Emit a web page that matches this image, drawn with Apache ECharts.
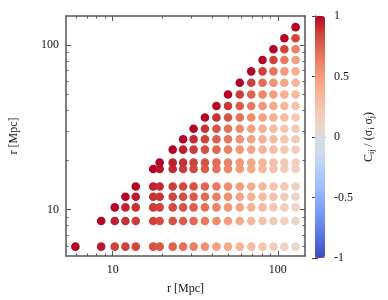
<!DOCTYPE html>
<html>
<head>
<meta charset="utf-8">
<script src="https://cdn.jsdelivr.net/npm/echarts@6/dist/echarts.min.js"></script>
<style>html,body{margin:0;padding:0;background:#fff;}#c{width:388px;height:300px;}</style>
</head>
<body>
<div id="c"></div>
<script>
// separation bins r [Mpc] (same for both axes)
const rBins = [5.95, 8.52, 10.3, 11.95, 13.8, 17.6, 19.25, 23.1, 26.7, 30.9, 36.2, 42.5, 49.9, 58.8, 69.0, 80.8, 94.0, 109.5, 128.0];
// correlation coefficients, row i (y = rBins[i]) for columns j = i..18
const row0  = [1, 0.96, 0.86, 0.86, 0.84, 0.8, 0.78, 0.74, 0.68, 0.63, 0.55, 0.47, 0.42, 0.36, 0.31, 0.25, 0.19, 0.13, 0.08];
const row1  = [1, 0.94, 0.9, 0.88, 0.85, 0.83, 0.8, 0.77, 0.72, 0.65, 0.57, 0.49, 0.41, 0.34, 0.27, 0.21, 0.16, 0.11];
const row2  = [1, 0.93, 0.9, 0.88, 0.86, 0.83, 0.8, 0.76, 0.69, 0.61, 0.52, 0.44, 0.37, 0.3, 0.24, 0.18, 0.12];
const row3  = [1, 0.95, 0.9, 0.89, 0.85, 0.82, 0.78, 0.71, 0.63, 0.54, 0.46, 0.38, 0.31, 0.25, 0.19, 0.13];
const row4  = [1, 0.94, 0.92, 0.87, 0.84, 0.8, 0.73, 0.65, 0.56, 0.48, 0.4, 0.33, 0.26, 0.2, 0.14];
const row5  = [1, 0.97, 0.92, 0.88, 0.84, 0.77, 0.69, 0.6, 0.5, 0.42, 0.34, 0.27, 0.2, 0.15];
const row6  = [1, 0.94, 0.9, 0.86, 0.79, 0.71, 0.61, 0.51, 0.43, 0.35, 0.28, 0.21, 0.16];
const row7  = [1, 0.94, 0.88, 0.81, 0.72, 0.62, 0.52, 0.44, 0.36, 0.29, 0.22, 0.17];
const row8  = [1, 0.92, 0.85, 0.76, 0.66, 0.55, 0.46, 0.38, 0.3, 0.24, 0.19];
const row9  = [1, 0.9, 0.8, 0.69, 0.58, 0.48, 0.39, 0.31, 0.25, 0.2];
const row10 = [1, 0.9, 0.8, 0.68, 0.57, 0.47, 0.38, 0.3, 0.23];
const row11 = [1, 0.89, 0.77, 0.64, 0.52, 0.42, 0.34, 0.26];
const row12 = [1, 0.88, 0.74, 0.6, 0.48, 0.38, 0.3];
const row13 = [1, 0.87, 0.7, 0.55, 0.43, 0.34];
const row14 = [1, 0.86, 0.67, 0.51, 0.39];
const row15 = [1, 0.86, 0.65, 0.48];
const row16 = [1, 0.85, 0.62];
const row17 = [1, 0.84];
const row18 = [1];
const majorTicks = [10, 100];
const minorTicksX = [6, 7, 8, 9, 20, 30, 40, 50, 60, 70, 80, 90];
const minorTicksY = [6, 7, 8, 9, 20, 30, 40, 50, 60, 70, 80, 90];
const cbarTicks = [-1, -0.5, 0, 0.5, 1];

const rows = [row0,row1,row2,row3,row4,row5,row6,row7,row8,row9,row10,row11,row12,row13,row14,row15,row16,row17,row18];
const points = [];
rows.forEach((row, i) => row.forEach((v, k) => points.push([rBins[i + k], rBins[i], v])));

const coolwarm = ['#3b4cc0','#4d68d7','#6282ea','#7799f8','#8db0fe','#a3c2ff','#b8d0f9','#ccd9ee','#dddddd','#ecd3c5','#f5c4ad','#f7b193','#f49a7b','#ec7f63','#de604d','#cb3e38','#b40426'];

const FONT = 'Liberation Serif';
const FRAME = '#555';
const xMin = 5.22, xMax = 146, yMin = 5.22, yMax = 149.6;

function logAxis(common, extra) { return Object.assign({type:'log', logBase:10, gridIndex:0, splitLine:{show:false}, minorTick:{show:false}}, common, extra); }
const xc = {min:xMin, max:xMax};
const yc = {min:yMin, max:yMax};

const option = {
  animation: false,
  backgroundColor: '#fff',
  grid: [
    {left:59, top:16, width:246, height:242, show:false},
    {left:315, top:16, width:10, height:242, show:false}
  ],
  xAxis: [
    logAxis(xc, {position:'bottom', axisLine:{show:true, lineStyle:{color:FRAME, width:1.5}},
      axisTick:{show:true, inside:true, length:5, customValues:majorTicks, lineStyle:{color:FRAME}},
      axisLabel:{show:true, customValues:majorTicks, margin:8, color:'#111', fontFamily:FONT, fontSize:12, formatter: v => String(Math.round(v))},
      name:'r [Mpc]', nameLocation:'middle', nameGap:27, nameTextStyle:{fontFamily:FONT, fontSize:12, color:'#111'}}),
    logAxis(xc, {position:'bottom', axisLine:{show:false}, axisLabel:{show:false},
      axisTick:{show:true, inside:true, length:2.5, customValues:minorTicksX, lineStyle:{color:FRAME}}}),
    logAxis(xc, {position:'top', axisLine:{show:true, lineStyle:{color:FRAME, width:1.5}}, axisLabel:{show:false},
      axisTick:{show:true, inside:true, length:5, customValues:majorTicks, lineStyle:{color:FRAME}}}),
    logAxis(xc, {position:'top', axisLine:{show:false}, axisLabel:{show:false},
      axisTick:{show:true, inside:true, length:2.5, customValues:minorTicksX, lineStyle:{color:FRAME}}}),
    {type:'value', gridIndex:1, min:0, max:1, position:'bottom', axisLine:{show:true, lineStyle:{color:FRAME, width:1}}, axisTick:{show:false}, axisLabel:{show:false}, splitLine:{show:false}},
    {type:'value', gridIndex:1, min:0, max:1, position:'top', axisLine:{show:true, lineStyle:{color:FRAME, width:1}}, axisTick:{show:false}, axisLabel:{show:false}, splitLine:{show:false}}
  ],
  yAxis: [
    logAxis(yc, {position:'left', axisLine:{show:true, lineStyle:{color:FRAME, width:1.5}},
      axisTick:{show:true, inside:true, length:5, customValues:majorTicks, lineStyle:{color:FRAME}},
      axisLabel:{show:true, customValues:majorTicks, margin:7, color:'#111', fontFamily:FONT, fontSize:12, formatter: v => String(Math.round(v))},
      name:'r [Mpc]', nameLocation:'middle', nameGap:46, nameRotate:90, nameTextStyle:{fontFamily:FONT, fontSize:12, color:'#111'}}),
    logAxis(yc, {position:'left', axisLine:{show:false}, axisLabel:{show:false},
      axisTick:{show:true, inside:true, length:2.5, customValues:minorTicksY, lineStyle:{color:FRAME}}}),
    logAxis(yc, {position:'right', axisLine:{show:true, lineStyle:{color:FRAME, width:1.5}}, axisLabel:{show:false},
      axisTick:{show:true, inside:true, length:5, customValues:majorTicks, lineStyle:{color:FRAME}}}),
    logAxis(yc, {position:'right', axisLine:{show:false}, axisLabel:{show:false},
      axisTick:{show:true, inside:true, length:2.5, customValues:minorTicksY, lineStyle:{color:FRAME}}}),
    {type:'value', gridIndex:1, min:-1, max:1, interval:0.5, position:'right',
      axisLine:{show:true, lineStyle:{color:FRAME, width:1}},
      axisTick:{show:true, inside:true, length:3, lineStyle:{color:'#444'}},
      axisLabel:{show:true, margin:9, color:'#111', fontFamily:FONT, fontSize:12, formatter: v => String(v)},
      splitLine:{show:false},
      name:'{m|C}{s|ij}{m| / (σ}{s|i}{m| σ}{s|j}{m|)}', nameLocation:'middle', nameRotate:90, nameGap:36,
      nameTextStyle:{fontFamily:FONT, fontSize:12, color:'#111', rich:{
        m:{fontFamily:FONT, fontSize:12, color:'#111'},
        s:{fontFamily:FONT, fontSize:8, color:'#111', padding:[7,0,0,0]}
      }}},
    {type:'value', gridIndex:1, min:-1, max:1, interval:0.5, position:'left',
      axisLine:{show:true, lineStyle:{color:FRAME, width:1}},
      axisTick:{show:true, inside:true, length:3, lineStyle:{color:'#444'}},
      axisLabel:{show:false}, splitLine:{show:false}}
  ],
  visualMap: {
    type:'continuous', min:-1, max:1, dimension:2, seriesIndex:0,
    left:315, top:16, itemWidth:10, itemHeight:242, padding:0,
    calculable:false, text:null, realtime:false, hoverLink:false,
    inRange:{color:coolwarm}
  },
  series: [{
    type:'scatter', xAxisIndex:0, yAxisIndex:0, symbol:'circle', symbolSize:8.6,
    data: points, itemStyle:{opacity:1}, z:1
  }]
};
const chart = echarts.init(document.getElementById('c'), null, {renderer:'canvas'});
chart.setOption(option);
</script>
</body>
</html>
